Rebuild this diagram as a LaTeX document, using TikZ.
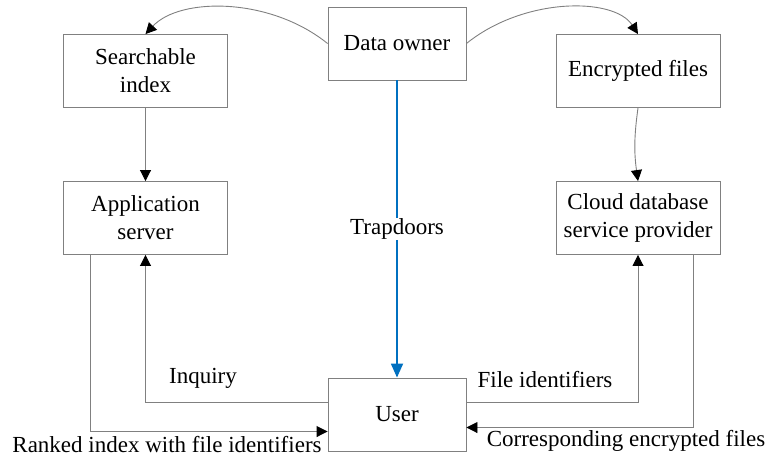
\documentclass[tikz,border=0pt]{standalone}
\usepackage{fontspec}
\setmainfont{Liberation Serif}
\newfontfamily\timesfont{Liberation Serif}
\usetikzlibrary{arrows.meta}
\definecolor{linegray}{RGB}{128,128,128}
\definecolor{trapblue}{RGB}{0,112,192}
\begin{document}
\begin{tikzpicture}[x=1pt,y=-1pt,
  every node/.style={font=\timesfont\fontsize{23}{28}\selectfont, text=black},
  box/.style={draw=linegray, line width=0.9pt, minimum width=164pt, minimum height=73pt, align=center, inner sep=2pt},
  conn/.style={draw=linegray, line width=0.9pt, -{Triangle[length=11pt,width=11pt,color=black,fill=black]}},
  lbl/.style={inner sep=1pt}]
\useasboundingbox (0,0) rectangle (767,459);
\node[box] (sidx) at (145.5,71) {Searchable\\index};
\node[box] (app) at (145.5,218) {Application\\server};
\node[box, minimum width=138pt] (owner) at (397,43.5) {Data owner};
\node[box] (enc) at (638,71) {Encrypted files};
\node[box] (cloud) at (638,218) {Cloud database\\service provider};
\node[box, minimum width=138pt] (user) at (397,414.5) {User};

\draw[conn] (owner.west) .. controls (270,-3) and (180,-3) .. (sidx.north);
\draw[conn] (owner.east) .. controls (524,-3) and (614,-3) .. (enc.north);
\draw[conn] (sidx.south) -- (app.north);
\draw[conn] (enc.south) to[bend right=8] (cloud.north);

\draw[draw=trapblue, line width=1.8pt, -{Triangle[length=14pt,width=12pt,fill=trapblue]}] (owner.south) -- node[midway, fill=white, inner sep=1pt] (trap) {Trapdoors} (user.north);

\draw[conn] ([yshift=12.5pt]user.west) -| (app.south);
\draw[conn] ([xshift=-55pt]app.south) |- ([yshift=-17pt]user.west);
\draw[conn] ([yshift=12.5pt]user.east) -| (cloud.south);
\draw[conn] ([xshift=55pt]cloud.south) |- ([yshift=-13pt]user.east);

\node[lbl] (linq) at (203,378) {Inquiry};
\node[lbl] (lfile) at (545,380) {File identifiers};
\node[lbl] (lrank) at (167,445) {Ranked index with file identifiers};
\node[lbl] (lcorr) at (626,441) {Corresponding encrypted files};
\end{tikzpicture}
\end{document}
